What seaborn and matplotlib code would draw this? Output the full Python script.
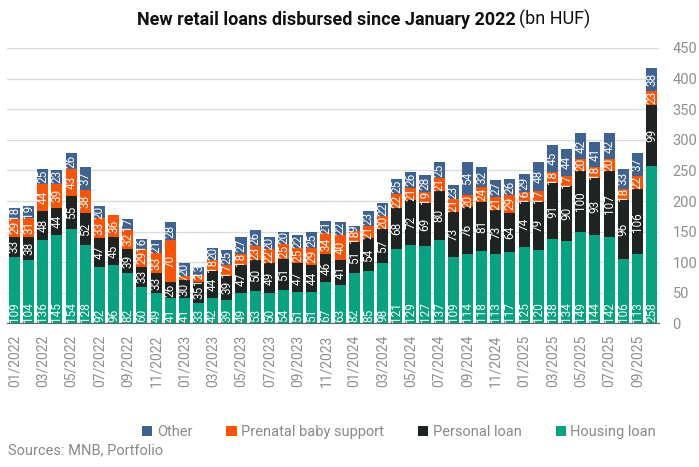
import numpy as np
import seaborn as sns
import matplotlib.pyplot as plt
from matplotlib.patches import Patch

months = [f"{m:02d}/{y}" for y in (2022, 2023, 2024, 2025) for m in range(1, 13)][:46]

housing = [109, 104, 136, 145, 154, 128, 92, 96, 82, 60, 49, 41,
           41, 33, 42, 39, 49, 53, 50, 54, 51, 51, 67, 63,
           82, 85, 98, 121, 129, 127, 137, 109, 114, 118, 113, 117,
           125, 120, 138, 134, 149, 144, 142, 106, 113, 258]
personal = [33, 38, 48, 44, 55, 52, 47, 45, 39, 33, 33, 26,
            30, 35, 44, 39, 47, 50, 49, 51, 47, 44, 46, 41,
            51, 54, 57, 68, 72, 69, 80, 73, 76, 81, 73, 64,
            74, 79, 91, 90, 100, 93, 107, 96, 106, 99]
prenatal = [29, 31, 44, 39, 43, 38, 33, 36, 32, 29, 33, 70,
            7, 12, 18, 17, 18, 23, 22, 25, 25, 29, 34, 40,
            18, 21, 20, 22, 21, 19, 21, 21, 20, 24, 21, 29,
            16, 17, 18, 17, 20, 18, 20, 18, 22, 23]
other = [18, 19, 25, 23, 26, 37, 20, 0, 17, 16, 21, 28,
         20, 13, 20, 25, 27, 26, 20, 20, 22, 25, 21, 22,
         9, 23, 22, 25, 26, 28, 25, 23, 54, 32, 27, 26,
         29, 48, 45, 44, 42, 41, 42, 33, 37, 38]

series = ["Other", "Prenatal baby support", "Personal loan", "Housing loan"]
colors = ["#3e6392", "#fe5303", "#1d2421", "#05a37f"]

sns.set_style("white")
plt.rcParams["font.family"] = ["Roboto", "DejaVu Sans"]

h = np.array(housing)
p = np.array(personal)
pr = np.array(prenatal)
o = np.array(other)
# cumulative tops, drawn tallest first so each layer covers the one behind
tops = [h + p + pr + o, h + p + pr, h + p, h]

fig = plt.figure(figsize=(6.99, 4.67), dpi=100)
ax = fig.add_axes([0.0106, 0.3073, 0.9316, 0.59])

for top, c in zip(tops, colors):
    sns.barplot(x=months, y=top, color=c, saturation=1, width=0.78,
                linewidth=0, ax=ax)

# segment labels
for i in range(len(months)):
    ax.text(i, 2.5, str(housing[i]), rotation=90, ha="center", va="bottom",
            color="white", fontsize=8.5)
    segs = [(h[i], personal[i]), (h[i] + p[i], prenatal[i]),
            (h[i] + p[i] + pr[i], other[i])]
    for base, v in segs:
        if v > 0:
            ax.text(i, base + v / 2, str(v), rotation=90, ha="center",
                    va="center", color="white", fontsize=8.5)

ax.set_xlim(-0.5, len(months) - 0.5)
ax.set_ylim(0, 450)
ax.set_yticks(range(0, 451, 50))
ax.yaxis.tick_right()
ax.grid(axis="y", color="#dcdcdc", linewidth=1)
ax.set_axisbelow(True)
ax.set_xticks(range(0, len(months), 2))
ax.set_xticklabels(months[::2], rotation=90)
ax.tick_params(axis="x", length=0, pad=8, labelsize=10, labelcolor="#8f8f8f")
ax.tick_params(axis="y", length=0, pad=10, labelsize=10.5, labelcolor="#8f8f8f")
ax.set_xlabel("")
ax.set_ylabel("")
for s in ["top", "left", "right"]:
    ax.spines[s].set_visible(False)
ax.spines["bottom"].set_color("#666666")

fig.text(0.738, 0.958, "New retail loans disbursed since January 2022",
         ha="right", va="center", fontsize=13, fontweight="bold", color="#111111")
fig.text(0.743, 0.958, "(bn HUF)", ha="left", va="center", fontsize=13,
         color="#111111")

handles = [Patch(facecolor=c, edgecolor="none") for c in colors]
fig.legend(handles, series, loc="center", bbox_to_anchor=(0.571, 0.075), ncol=4,
           frameon=False, fontsize=10.5, handlelength=0.7, handleheight=0.7,
           handletextpad=0.3, columnspacing=2.35, labelcolor="#8a8a8a")

fig.text(0.012, 0.035, "Sources: MNB, Portfolio", ha="left", va="center",
         fontsize=10.5, color="#8a8a8a")

fig.savefig("out.png", dpi=100)
